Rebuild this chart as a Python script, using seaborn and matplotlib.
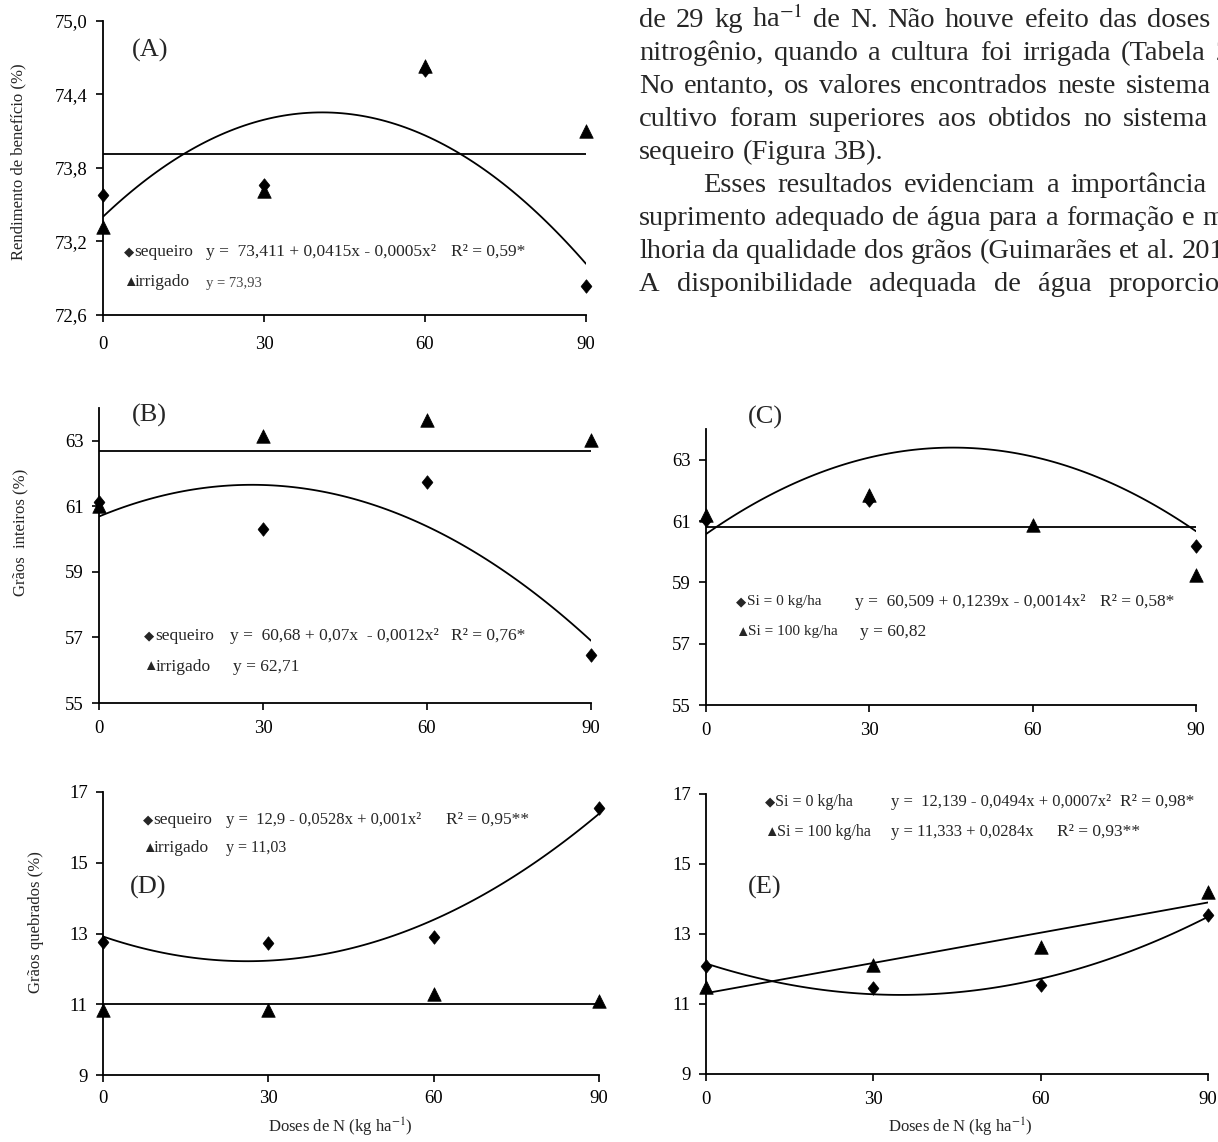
import numpy as np
import matplotlib
matplotlib.use("Agg")
import matplotlib.pyplot as plt
import seaborn as sns

# ----------------------------
# DATA
# ----------------------------
doses = [0, 30, 60, 90]

# (A) rendimento de beneficio
a_sequeiro = [73.58, 73.66, 74.60, 72.84]
a_irrigado = [73.32, 73.61, 74.63, 74.10]
# (B) graos inteiros, sequeiro x irrigado
b_sequeiro = [61.14, 60.30, 61.74, 56.45]
b_irrigado = [61.01, 63.15, 63.62, 63.03]
# (C) graos inteiros, Si 0 x Si 100 (Si=0 at 60 kg lies above the axis)
c_si0 = [61.04, 61.67, 64.50, 60.20]
c_si100 = [61.20, 61.86, 60.88, 59.25]
# (D) graos quebrados, sequeiro x irrigado
d_sequeiro = [12.75, 12.73, 12.89, 16.55]
d_irrigado = [10.84, 10.84, 11.28, 11.10]
# (E) graos quebrados, Si 0 x Si 100
e_si0 = [12.10, 11.45, 11.55, 13.55]
e_si100 = [11.48, 12.12, 12.63, 14.19]

# ----------------------------
# STYLE
# ----------------------------
sns.set_style("ticks")
plt.rcParams["font.family"] = ["Liberation Serif", "DejaVu Sans"]
plt.rcParams["mathtext.fontset"] = "stix"

W, H = 1218, 1142
fig = plt.figure(figsize=(W / 100, H / 100), dpi=100)


def box(l, r, t, b):
    return [l / W, 1 - b / H, (r - l) / W, (b - t) / H]


def put(x, y, s, size=12.5, **kw):
    kw.setdefault("va", "center")
    kw.setdefault("ha", "left")
    return fig.text(x / W, 1 - y / H, s, fontsize=size, **kw)


def panel(rect, ylim, yticks, fmt, xpad=7.5):
    ax = fig.add_axes(rect)
    ax.set_xlim(0, 90)
    ax.set_ylim(*ylim)
    ax.set_xticks(doses)
    ax.set_yticks(yticks)
    ax.set_yticklabels([fmt.format(v).replace(".", ",") for v in yticks])
    sns.despine(ax=ax)
    for sp in ("left", "bottom"):
        ax.spines[sp].set_linewidth(1.3)
        ax.spines[sp].set_color("black")
    ax.tick_params(direction="out", length=5, width=1.2, labelsize=13.5,
                   colors="black", pad=6)
    ax.tick_params(axis="x", pad=xpad)
    return ax


# slightly tall diamond, as in the original
DIAMOND = [(0, 1), (0.8, 0), (0, -1), (-0.8, 0), (0, 1)]
DM, DS = DIAMOND, 95
TM, TS = "^", 95


def points(ax, y, marker, s):
    x = np.array(doses)
    y = np.array(y)
    keep = y <= ax.get_ylim()[1]
    sns.scatterplot(x=x[keep], y=y[keep], marker=marker, s=s, color="black",
                    edgecolor="black", linewidth=0.5, clip_on=False, zorder=4,
                    legend=False, ax=ax)


def fit(ax, y, order):
    if order == 0:
        ax.axhline(np.mean(y), color="black", lw=1.3)
    else:
        sns.regplot(x=np.array(doses), y=np.array(y), order=order, ci=None,
                    scatter=False, color="black", line_kws={"lw": 1.3}, ax=ax)
        ax.set_xlabel("")
        ax.set_ylabel("")


# (A)
axA = panel(box(103, 586, 21, 315), (72.6, 75.0),
            [72.6, 73.2, 73.8, 74.4, 75.0], "{:.1f}", xpad=10)
fit(axA, a_sequeiro, 2)
fit(axA, a_irrigado, 0)
points(axA, a_sequeiro, DM, DS)
points(axA, a_irrigado, TM, TS)

# (B)
axB = panel(box(99, 591, 408, 703), (55, 64), [55, 57, 59, 61, 63], "{:.0f}")
fit(axB, b_sequeiro, 2)
fit(axB, b_irrigado, 0)
points(axB, b_sequeiro, DM, DS)
points(axB, b_irrigado, TM, TS)

# (C)
axC = panel(box(706, 1196, 429, 705), (55, 64), [55, 57, 59, 61, 63], "{:.0f}")
fit(axC, c_si0, 2)
fit(axC, c_si100, 0)
points(axC, c_si0, DM, DS)
points(axC, c_si100, TM, TS)

# (D)
axD = panel(box(103, 599, 792, 1075), (9, 17), [9, 11, 13, 15, 17], "{:.0f}",
            xpad=6)
fit(axD, d_sequeiro, 2)
fit(axD, d_irrigado, 0)
points(axD, d_sequeiro, DM, DS)
points(axD, d_irrigado, TM, TS)

# (E)
axE = panel(box(706, 1208, 794, 1074), (9, 17), [9, 11, 13, 15, 17], "{:.0f}")
fit(axE, e_si0, 2)
fit(axE, e_si100, 1)
points(axE, e_si0, DM, DS)
points(axE, e_si100, TM, TS)

# ----------------------------
# TEXT
# ----------------------------
for x, y, s in [(132, 50, "(A)"), (132, 415, "(B)"), (748, 417, "(C)"),
                (130, 887, "(D)"), (748, 887, "(E)")]:
    put(x, y, s, size=19)

put(18, 162, "Rendimento de benefício (%)", size=12, rotation=90, ha="center")
put(20, 532, "Grãos  inteiros (%)", size=12, rotation=90, ha="center")
put(36, 922, "Grãos quebrados (%)", size=12, rotation=90, ha="center")
put(340, 1127, "Doses de N (kg ha$^{-1}$)", size=12, ha="center")
put(960, 1127, "Doses de N (kg ha$^{-1}$)", size=12, ha="center")

DIA, TRI = "\u25C6", "\u25B2"
DSZ, TSZ = 9.5, 10.5

# legend A
put(124, 252, DIA, size=DSZ)
put(134, 252, "sequeiro")
put(206, 252, "y =  73,411 + 0,0415x - 0,0005x²")
put(451, 252, "R² = 0,59*")
put(123, 282, TRI, size=TSZ)
put(135, 282, "irrigado")
put(206, 283, "y = 73,93", size=10.5, color="#444444")

# legend B
put(144, 636, DIA, size=DSZ)
put(155, 636, "sequeiro")
put(230, 636, "y =  60,68 + 0,07x  - 0,0012x²")
put(451, 636, "R² = 0,76*")
put(143, 667, TRI, size=TSZ)
put(156, 667, "irrigado")
put(233, 667, "y = 62,71")

# legend C
put(736, 602, DIA, size=DSZ)
put(747, 602, "Si = 0 kg/ha", size=11)
put(855, 602, "y =  60,509 + 0,1239x - 0,0014x²")
put(1100, 602, "R² = 0,58*")
put(735, 632, TRI, size=TSZ)
put(748, 632, "Si = 100 kg/ha", size=11)
put(860, 632, "y = 60,82")

# legend D
put(143, 820, DIA, size=DSZ)
put(153, 820, "sequeiro")
put(226, 820, "y =  12,9 - 0,0528x + 0,001x²", size=12)
put(446, 820, "R² = 0,95**")
put(142, 848, TRI, size=TSZ)
put(154, 848, "irrigado")
put(226, 848, "y = 11,03", size=11.5)

# legend E
put(765, 802, DIA, size=DSZ)
put(775, 802, "Si = 0 kg/ha", size=11.5)
put(891, 802, "y =  12,139 - 0,0494x + 0,0007x²", size=12)
put(1120, 802, "R² = 0,98*")
put(764, 832, TRI, size=TSZ)
put(777, 832, "Si = 100 kg/ha", size=11.5)
put(891, 832, "y = 11,333 + 0,0284x", size=12)
put(1057, 832, "R² = 0,93**")

# paragraph at the top right, justified, cut by the page edge
para = [
    (639, "de 29 kg ha$^{-1}$ de N. Não houve efeito das doses de", True),
    (639, "nitrogênio, quando a cultura foi irrigada (Tabela 2).", True),
    (639, "No entanto, os valores encontrados neste sistema de", True),
    (639, "cultivo foram superiores aos obtidos no sistema de", True),
    (639, "sequeiro (Figura 3B).", False),
    (703, "Esses resultados evidenciam a importância do", True),
    (639, "suprimento adequado de água para a formação e me-", True),
    (639, "lhoria da qualidade dos grãos (Guimarães et al. 2016).", True),
    (639, "A disponibilidade adequada de água proporciona", True),
]
PSZ = 20.5
RIGHT = 1247
renderer = fig.canvas.get_renderer()
for i, (x0, line, justify) in enumerate(para):
    words = line.split(" ")
    texts = [put(x0, 27 + 33 * i, w, size=PSZ, va="baseline") for w in words]
    widths = [t.get_window_extent(renderer).width for t in texts]
    gap = PSZ * 100 / 72 * 0.25
    if justify and len(words) > 1:
        gap = max(gap, (RIGHT - x0 - sum(widths)) / (len(words) - 1))
    x = x0
    for t, w in zip(texts, widths):
        t.set_x(x / W)
        x += w + gap

fig.savefig("out.png", dpi=100)
